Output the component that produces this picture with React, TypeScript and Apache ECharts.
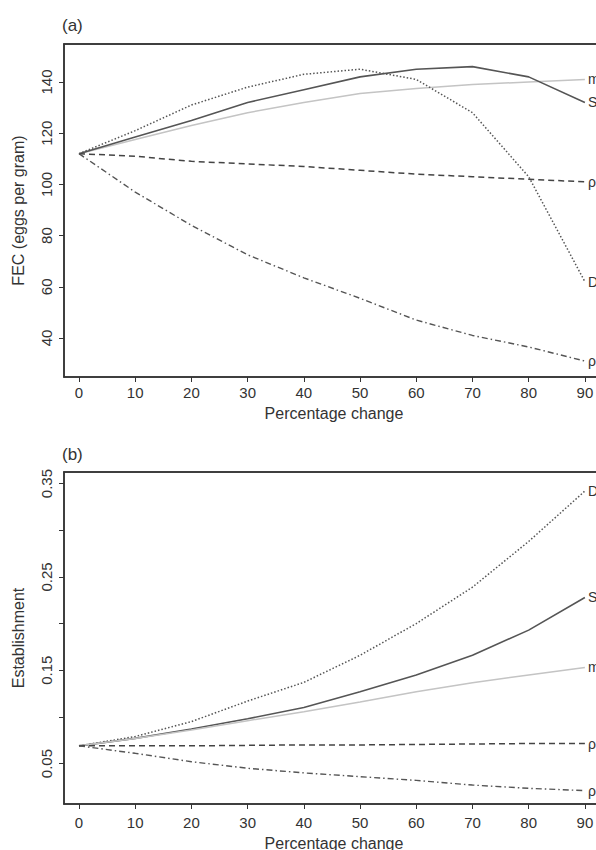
import React, { useEffect, useRef } from "react";
import * as echarts from "echarts";

// ---- Data ----
const pctChange = [0, 10, 20, 30, 40, 50, 60, 70, 80, 90];
const xTicks = [0, 10, 20, 30, 40, 50, 60, 70, 80, 90];

// Panel (a): FEC (eggs per gram)
const fecM = [112, 117.5, 123, 128, 132, 135.5, 137.5, 139, 140, 141];
const fecS = [112, 118.5, 125, 132, 137, 142, 145, 146, 142, 132];
const fecRho1 = [112, 111, 109, 108, 107, 105.5, 104, 103, 102, 101];
const fecD = [112, 121, 131, 138, 143, 145, 141, 128, 103, 62];
const fecRho2 = [112, 97, 84, 72.5, 63.5, 55.5, 47, 41, 36.5, 31];
const fecTicks = [40, 60, 80, 100, 120, 140];

// Panel (b): Establishment
const estD = [0.069, 0.079, 0.095, 0.117, 0.137, 0.166, 0.2, 0.239, 0.288, 0.342];
const estS = [0.069, 0.077, 0.087, 0.098, 0.11, 0.127, 0.145, 0.166, 0.193, 0.228];
const estM = [0.069, 0.077, 0.086, 0.096, 0.1055, 0.116, 0.127, 0.1365, 0.145, 0.153];
const estRho1 = [0.069, 0.069, 0.069, 0.0695, 0.07, 0.07, 0.0705, 0.071, 0.0715, 0.0715];
const estRho2 = [0.069, 0.061, 0.052, 0.045, 0.04, 0.036, 0.032, 0.027, 0.0235, 0.021];
const estTicks = [0.05, 0.1, 0.15, 0.2, 0.25, 0.3, 0.35];
const estLabels = [0.05, 0.15, 0.25, 0.35];

const FONT = "Liberation Sans, Arial, Helvetica, sans-serif";
const INK = "#333";
const FRAME = { color: "#333", width: 1.5 };

type Style = { color: string; width: number; type: any };
const styles: Record<string, Style> = {
  m: { color: "#c4c4c4", width: 1.5, type: "solid" },
  S: { color: "#555", width: 1.6, type: "solid" },
  D: { color: "#555", width: 1.5, type: [1.5, 2] },
  rho1: { color: "#444", width: 1.5, type: [6, 4] },
  rho2: { color: "#555", width: 1.4, type: [6, 3, 1.5, 3] },
};

function mkSeries(name: string, label: string, key: string, vals: number[], idx: number) {
  const st = styles[key];
  return {
    name,
    type: "line",
    xAxisIndex: idx * 2,
    yAxisIndex: idx,
    data: pctChange.map((x, i) => [x, vals[i]]),
    showSymbol: false,
    symbol: "none",
    smooth: false,
    lineStyle: { color: st.color, width: st.width, type: st.type },
    endLabel: {
      show: true,
      formatter: () => label,
      distance: 3,
      color: INK,
      fontSize: 14,
      fontFamily: FONT,
    },
    emphasis: { disabled: true },
  };
}

export default function App() {
  const ref = useRef<HTMLDivElement>(null);
  useEffect(() => {
    if (!ref.current) return;
    const chart = echarts.init(ref.current, undefined, { renderer: "svg" });
    const xAxisBase = (idx: number, gap: number, margin: number) => ({
      gridIndex: idx,
      type: "value",
      position: "bottom",
      min: -2.67,
      max: 93.4,
      axisLine: { show: true, onZero: false, lineStyle: FRAME },
      splitLine: { show: false },
      axisTick: {
        show: true,
        inside: false,
        length: 5,
        customValues: xTicks,
        lineStyle: { color: INK, width: 1 },
      },
      axisLabel: {
        customValues: xTicks,
        margin,
        fontSize: 15,
        color: INK,
        fontFamily: FONT,
      },
      name: "Percentage change",
      nameLocation: "middle",
      nameGap: gap,
      nameTextStyle: { fontSize: 16, color: INK, fontFamily: FONT },
    });
    const xAxisTop = (idx: number) => ({
      gridIndex: idx,
      type: "value",
      position: "top",
      min: -2.67,
      max: 93.4,
      axisLine: { show: true, onZero: false, lineStyle: FRAME },
      splitLine: { show: false },
      axisTick: { show: false },
      axisLabel: { show: false },
    });
    const option: any = {
      animation: false,
      backgroundColor: "#fff",
      grid: [
        { left: 64, top: 44, width: 540, height: 333, outerBoundsMode: "none", containLabel: false, show: true, borderColor: INK, borderWidth: 1.5, backgroundColor: "transparent" },
        { left: 64, top: 472, width: 540, height: 332, outerBoundsMode: "none", containLabel: false, show: true, borderColor: INK, borderWidth: 1.5, backgroundColor: "transparent" },
      ],
      xAxis: [xAxisBase(0, 28, 8), xAxisTop(0), xAxisBase(1, 31, 11), xAxisTop(1)],
      yAxis: [
        {
          gridIndex: 0,
          type: "value",
          min: 24.77,
          max: 154.84,
          axisLine: { show: true, onZero: false, lineStyle: FRAME },
          splitLine: { show: false },
          axisTick: { show: true, inside: false, length: 5, customValues: fecTicks, lineStyle: { color: INK, width: 1 } },
          axisLabel: { customValues: fecTicks, rotate: 90, margin: 10, fontSize: 15, color: INK, fontFamily: FONT },
          name: "FEC (eggs per gram)",
          nameLocation: "middle",
          nameGap: 38,
          nameTextStyle: { fontSize: 16, color: INK, fontFamily: FONT },
        },
        {
          gridIndex: 1,
          type: "value",
          min: 0.0067,
          max: 0.3624,
          axisLine: { show: true, onZero: false, lineStyle: FRAME },
          splitLine: { show: false },
          axisTick: { show: true, inside: false, length: 5, customValues: estTicks, lineStyle: { color: INK, width: 1 } },
          axisLabel: {
            customValues: estLabels,
            rotate: 90,
            margin: 10,
            fontSize: 15,
            color: INK,
            fontFamily: FONT,
            formatter: (v: number) => v.toFixed(2),
          },
          name: "Establishment",
          nameLocation: "middle",
          nameGap: 38,
          nameTextStyle: { fontSize: 16, color: INK, fontFamily: FONT },
        },
      ],
      graphic: [
        { type: "text", left: 62, top: 17, style: { text: "(a)", fontSize: 17, fill: INK, fontFamily: FONT } },
        { type: "text", left: 62, top: 446, style: { text: "(b)", fontSize: 17, fill: INK, fontFamily: FONT } },
      ],
      series: [
        mkSeries("FEC m", "m", "m", fecM, 0),
        mkSeries("FEC S", "S", "S", fecS, 0),
        mkSeries("FEC rho1", "ρ", "rho1", fecRho1, 0),
        mkSeries("FEC D", "D", "D", fecD, 0),
        mkSeries("FEC rho2", "ρ", "rho2", fecRho2, 0),
        mkSeries("Est D", "D", "D", estD, 1),
        mkSeries("Est S", "S", "S", estS, 1),
        mkSeries("Est m", "m", "m", estM, 1),
        mkSeries("Est rho1", "ρ", "rho1", estRho1, 1),
        mkSeries("Est rho2", "ρ", "rho2", estRho2, 1),
      ],
    };
    chart.setOption(option);
    return () => chart.dispose();
  }, []);
  return (
    <div
      ref={ref}
      style={{ position: "absolute", left: 0, top: 0, width: 596, height: 850, overflow: "hidden" }}
    />
  );
}
